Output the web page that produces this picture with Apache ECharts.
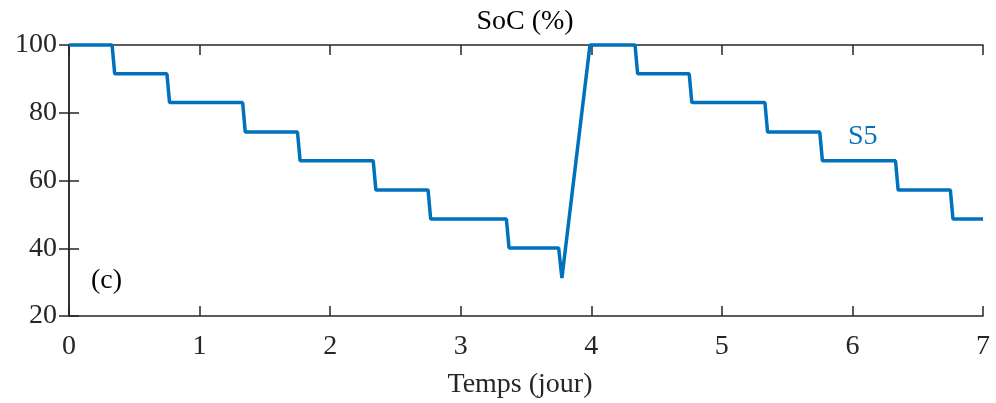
<!DOCTYPE html>
<html>
<head>
<meta charset="utf-8">
<script src="https://cdn.jsdelivr.net/npm/echarts@6/dist/echarts.min.js"></script>
<style>html,body{margin:0;padding:0;background:#fff}#c{width:996px;height:403px}</style>
</head>
<body>
<div id="c"></div>
<script>
// Time in days and SoC in %
var times = [0, 0.33, 0.35, 0.75, 0.77, 1.33, 1.35, 1.75, 1.77, 2.33, 2.35, 2.75, 2.77, 3.35, 3.37, 3.75, 3.775, 3.99, 4.335, 4.355, 4.75, 4.77, 5.33, 5.35, 5.75, 5.77, 6.33, 6.35, 6.75, 6.77, 7];
var soc   = [100, 100, 91.5, 91.5, 83, 83, 74.3, 74.3, 65.8, 65.8, 57.2, 57.2, 48.6, 48.6, 40.1, 40.1, 31.2, 100, 100, 91.5, 91.5, 83, 83, 74.3, 74.3, 65.8, 65.8, 57.2, 57.2, 48.6, 48.6];
var xTicks = [0, 1, 2, 3, 4, 5, 6, 7];
var yTicks = [20, 40, 60, 80, 100];
var titleText = 'SoC (%)';
var xName = 'Temps (jour)';
var seriesName = 'S5';
var panelLabel = '(c)';

var data = times.map(function (t, i) { return [t, soc[i]]; });
var FONT = 'Liberation Serif';
var AX = '#262626';
var FS = 28;
var chart = echarts.init(document.getElementById('c'));
var axLine = { show: true, lineStyle: { color: AX, width: 1.5 } };
var axTick = { show: true, inside: true, length: 10, lineStyle: { color: AX, width: 1.5 } };
chart.setOption({
  animation: false,
  backgroundColor: '#fff',
  grid: { left: 69, right: 13, top: 45, bottom: 87 },
  xAxis: [{
    type: 'value', min: xTicks[0], max: xTicks[xTicks.length - 1], interval: 1,
    axisLine: axLine, axisTick: axTick, splitLine: { show: false },
    axisLabel: { fontFamily: FONT, fontSize: FS, color: AX, margin: 17 }
  }, {
    type: 'value', position: 'top', min: xTicks[0], max: xTicks[xTicks.length - 1], interval: 1,
    axisLine: axLine, axisTick: axTick, splitLine: { show: false }, axisLabel: { show: false }
  }],
  yAxis: [{
    type: 'value', min: yTicks[0], max: yTicks[yTicks.length - 1], interval: 20,
    axisLine: axLine, axisTick: axTick, splitLine: { show: false },
    axisLabel: { fontFamily: FONT, fontSize: FS, color: AX, margin: 12 }
  }, {
    type: 'value', position: 'right', min: yTicks[0], max: yTicks[yTicks.length - 1], interval: 20,
    axisLine: axLine, axisTick: axTick, splitLine: { show: false }, axisLabel: { show: false }
  }],
  series: [{
    type: 'line', name: seriesName, data: data, showSymbol: false, symbol: 'none',
    lineStyle: { color: '#0072BD', width: 3.5 }, clip: false
  }],
  graphic: [
    { type: 'text', x: 525, y: 22, style: { text: titleText, font: FS + 'px "' + FONT + '"', fill: '#000', align: 'center', verticalAlign: 'middle' } },
    { type: 'text', x: 520, y: 385, style: { text: xName, font: FS + 'px "' + FONT + '"', fill: AX, align: 'center', verticalAlign: 'middle' } },
    { type: 'text', x: 848, y: 137, style: { text: seriesName, font: FS + 'px "' + FONT + '"', fill: '#0072BD', align: 'left', verticalAlign: 'middle' } },
    { type: 'text', x: 91, y: 281, style: { text: panelLabel, font: FS + 'px "' + FONT + '"', fill: '#000', align: 'left', verticalAlign: 'middle' } }
  ]
});
</script>
</body>
</html>
